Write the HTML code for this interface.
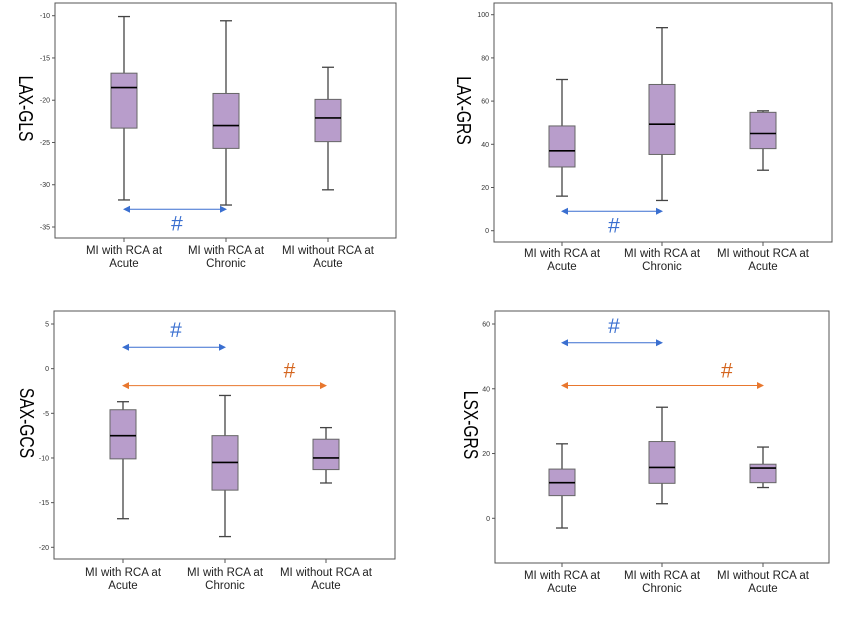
<!DOCTYPE html>
<html><head><meta charset="utf-8"><style>
body{margin:0;background:#fff;width:850px;height:634px;overflow:hidden}
svg{display:block;font-family:"Liberation Sans",sans-serif}
</style></head><body>
<svg id="s" width="850" height="634" viewBox="0 0 850 634"></svg>
<script>
const categories=["MI with RCA at|Acute","MI with RCA at|Chronic","MI without RCA at|Acute"];
const glsBoxes=[[-10.1,-16.8,-18.5,-23.3,-31.8],[-10.6,-19.2,-23.0,-25.7,-32.4],[-16.1,-19.9,-22.1,-24.9,-30.6]];
const grsBoxes=[[70,48.5,37,29.5,16],[94,67.7,49.3,35.3,14],[55.5,54.8,45,38,28]];
const gcsBoxes=[[-3.7,-4.6,-7.5,-10.1,-16.8],[-3,-7.5,-10.5,-13.6,-18.8],[-6.6,-7.9,-10,-11.3,-12.8]];
const lsxBoxes=[[23,15.2,11,7,-3],[34.3,23.7,15.7,10.8,4.5],[22,16.7,15.5,11,9.5]];
const glsTicks=[-10,-15,-20,-25,-30,-35];
const grsTicks=[0,20,40,60,80,100];
const gcsTicks=[5,0,-5,-10,-15,-20];
const lsxTicks=[0,20,40,60];
// [from, to, y value, color, label below?]
const glsArrows=[[0,1,-32.9,"#3a6fd0",1]];
const grsArrows=[[0,1,9,"#3a6fd0",1]];
const gcsArrows=[[0,1,2.4,"#3a6fd0",0],[0,2,-1.9,"#e8772e",0]];
const lsxArrows=[[0,1,54.2,"#3a6fd0",0],[0,2,41,"#e8772e",0]];
const NS="http://www.w3.org/2000/svg";
const svg=document.getElementById('s');
function mk(t,a,p){const e=document.createElementNS(NS,t);for(const k in a)e.setAttribute(k,a[k]);(p||svg).appendChild(e);return e;}
const panels=[
 {name:"lax-gls",title:"LAX-GLS",box:glsBoxes,ticks:glsTicks,arrows:glsArrows,fx:[55,396],fy:[3,238],t0:[-10,15.7],t1:[-35,227],cx:[124,226,328],ly:254,tx:22},
 {name:"lax-grs",title:"LAX-GRS",box:grsBoxes,ticks:grsTicks,arrows:grsArrows,fx:[494,832],fy:[3,242],t0:[100,14.7],t1:[0,230.7],cx:[562,662,763],ly:257,tx:460},
 {name:"sax-gcs",title:"SAX-GCS",box:gcsBoxes,ticks:gcsTicks,arrows:gcsArrows,fx:[54,395],fy:[311,559],t0:[5,324],t1:[-20,547.3],cx:[123,225,326],ly:576,tx:23},
 {name:"lsx-grs",title:"LSX-GRS",box:lsxBoxes,ticks:lsxTicks,arrows:lsxArrows,fx:[495,829],fy:[311,563],t0:[60,324],t1:[0,518.3],cx:[562,662,763],ly:579,tx:467}
];
panels.forEach(P=>{
 const g=mk('g',{});
 
 
 const y=v=>P.t0[1]+(v-P.t0[0])*(P.t1[1]-P.t0[1])/(P.t1[0]-P.t0[0]);
 const fr=mk('rect',{x:P.fx[0],y:P.fy[0],width:P.fx[1]-P.fx[0],height:P.fy[1]-P.fy[0],fill:'none',stroke:'#555','stroke-width':1},g);
 
 
 P.ticks.forEach(t=>{
  mk('line',{x1:P.fx[0]-3,x2:P.fx[0],y1:y(t),y2:y(t),stroke:'#555'},g);
  const tl=mk('text',{x:P.fx[0]-5,y:y(t)+2.5,'font-size':7,'text-anchor':'end',fill:'#333'},g);
  tl.textContent=t;
  
  
 });
 const yt=mk('text',{x:0,y:0,'font-size':20,'text-anchor':'middle',fill:'#000',transform:`translate(${P.tx-3},${(P.fy[0]+P.fy[1])/2-12}) rotate(90) scale(0.78,1)`},g);
 yt.textContent=P.title;
 
 
 P.box.forEach((b,i)=>{
  const c=P.cx[i];
  mk('line',{x1:c,x2:c,y1:P.fy[1],y2:P.fy[1]+4,stroke:'#555'},g);
  const bg=mk('g',{},g);
  
  
  mk('line',{x1:c,x2:c,y1:y(b[0]),y2:y(b[4]),stroke:'#444','stroke-width':1.3},bg);
  mk('line',{x1:c-6,x2:c+6,y1:y(b[0]),y2:y(b[0]),stroke:'#444','stroke-width':1.3},bg);
  mk('line',{x1:c-6,x2:c+6,y1:y(b[4]),y2:y(b[4]),stroke:'#444','stroke-width':1.3},bg);
  mk('rect',{x:c-13,y:y(b[1]),width:26,height:y(b[3])-y(b[1]),fill:'#b89dcb',stroke:'#666','stroke-width':1},bg);
  mk('line',{x1:c-13,x2:c+13,y1:y(b[2]),y2:y(b[2]),stroke:'#000','stroke-width':1.6},bg);
  const parts=categories[i].split('|');
  parts.forEach((p,k)=>{
   const tx=mk('text',{x:c,y:P.ly+k*13,'font-size':11.5,'text-anchor':'middle',fill:'#222'},g);
   tx.textContent=p;
   
   
  });
 });
 P.arrows.forEach(a=>{
  const x1=P.cx[a[0]],x2=P.cx[a[1]],yy=y(a[2]);
  const ag=mk('g',{},g);
  
  
  mk('line',{x1:x1+4,x2:x2-4,y1:yy,y2:yy,stroke:a[3],'stroke-width':1},ag);
  mk('polygon',{points:`${x1-1},${yy} ${x1+6},${yy-3.5} ${x1+6},${yy+3.5}`,fill:a[3]},ag);
  mk('polygon',{points:`${x2+1},${yy} ${x2-6},${yy-3.5} ${x2-6},${yy+3.5}`,fill:a[3]},ag);
  const hx=a[1]==2? x1+0.82*(x2-x1) : (x1+x2)/2+2;
  const hy=a[4]? yy+21 : (a[1]==2? yy-8 : yy-10);
  const h=mk('text',{x:hx,y:hy,'font-size':21,'text-anchor':'middle',fill:a[1]==2?'#d4651e':'#3a6fd0'},ag);
  h.textContent='#';
  
  
 });
});
</script>
</body></html>
